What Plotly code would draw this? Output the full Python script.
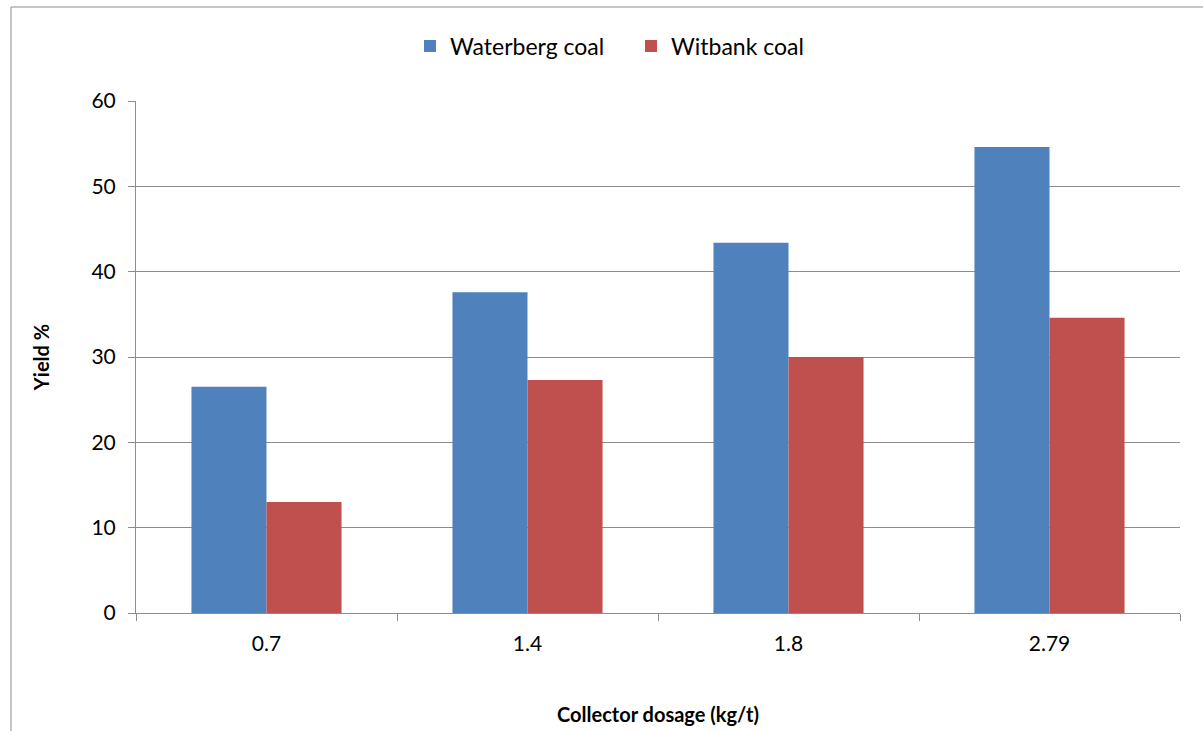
import plotly.graph_objects as go

# Collector dosage categories and flotation yields (%)
dosages = ["0.7", "1.4", "1.8", "2.79"]
waterberg_yield = [26.5, 37.6, 43.4, 54.6]
witbank_yield = [13.0, 27.3, 30.0, 34.6]

fig = go.Figure()
fig.add_trace(go.Bar(name="Waterberg coal", x=dosages, y=waterberg_yield,
                     marker=dict(color="#4F81BD", line=dict(width=0))))
fig.add_trace(go.Bar(name="Witbank coal", x=dosages, y=witbank_yield,
                     marker=dict(color="#C0504D", line=dict(width=0))))

font_family = "Lato, 'Open Sans', sans-serif"
grey = "#8c8c8c"

fig.update_layout(
    width=1203, height=731,
    margin=dict(l=136, r=23, t=101, b=118, autoexpand=False),
    paper_bgcolor="white", plot_bgcolor="white",
    barmode="group", bargap=0.425, bargroupgap=0,
    font=dict(family=font_family, size=21, color="black"),
    legend=dict(orientation="h", x=(410 - 136) / 1044, y=(613 - 46) / 512,
                xanchor="left", yanchor="middle",
                font=dict(size=23), itemwidth=30, entrywidth=176, entrywidthmode="pixels",
                traceorder="normal"),
    xaxis=dict(type="category", showgrid=False, showline=True, linecolor=grey, linewidth=1,
               ticks="outside", tickson="boundaries", ticklen=7, tickcolor=grey,
               ticklabelstandoff=12,
               title=dict(text="<b>Collector dosage (kg/t)</b>", font=dict(size=20), standoff=53)),
    yaxis=dict(range=[0, 60], dtick=10, showgrid=True, gridcolor=grey, gridwidth=1,
               showline=True, linecolor=grey, linewidth=1, ticks="outside", ticklen=7,
               tickcolor=grey, zeroline=False, ticklabelstandoff=8,
               title=dict(text="<b>Yield %</b>", font=dict(size=20), standoff=36)),
    shapes=[dict(type="rect", xref="paper", yref="paper",
                 x0=(11 - 136) / 1044, x1=1.05, y0=-0.4, y1=(613 - 7) / 512,
                 line=dict(color=grey, width=1), fillcolor="rgba(0,0,0,0)", layer="below")],
)

fig.write_html("out.html")
